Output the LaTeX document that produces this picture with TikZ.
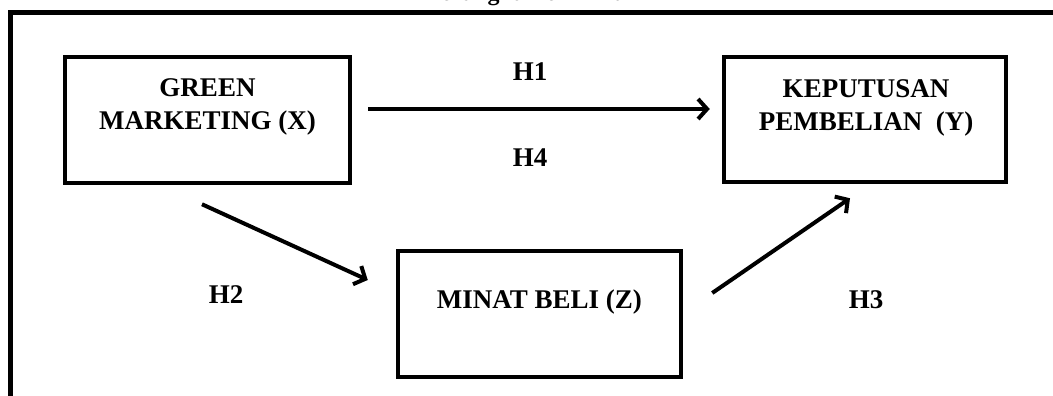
\documentclass[tikz,border=0pt]{standalone}
\usepackage{fontspec}
\setmainfont{Liberation Serif}
\usetikzlibrary{arrows.meta}
\begin{document}
\begin{tikzpicture}[x=1pt,y=-1pt,
  box/.style={draw=black,line width=4.5pt,rectangle,inner sep=0pt},
  lbl/.style={font=\fontsize{27}{33}\selectfont\bfseries,align=center,inner sep=0pt},
  hyp/.style={font=\fontsize{27}{33}\selectfont\bfseries,inner sep=0pt},
  arr/.style={line width=4pt,-{Straight Barb[length=9pt,width=20pt]}},
  frame/.style={line width=5pt,line join=miter},
]
\clip (0,0) rectangle (1053,396);
\fill[white] (0,0) rectangle (1053,396);

% caption line, cut off at the top edge
\node[font=\fontsize{24}{24}\selectfont\bfseries,anchor=base west,inner sep=0pt] (cap) at (422,0.5) {Kerangka Pemikiran};

% outer frame
\draw[frame] (10,410) -- (10,12.5) -- (1070,12.5);

% variables
\node[box,minimum width=285pt,minimum height=126pt] (X) at (207.5,120) {};
\node[box,minimum width=282pt,minimum height=125pt] (Y) at (865,119.5) {};
\node[box,minimum width=283pt,minimum height=126pt] (Z) at (539.5,314) {};

\node[lbl] (Xt) at (207.5,106.5) {GREEN\\MARKETING (X)};
\node[lbl] (Yt) at (866,107.5) {KEPUTUSAN\\PEMBELIAN\ \ (Y)};
\node[lbl] (Zt) at (539.5,302) {MINAT BELI (Z)};

% paths between variables
\draw[arr] ([shift={(16,-11)}]X.east) -- ([shift={(-12,-10.5)}]Y.west);
\draw[arr] ([shift={(-5.5,19)}]X.south) -- ([shift={(-28,-34)}]Z.west);
\draw[arr] ([shift={(29,-21)}]Z.east) -- ([shift={(-15,14)}]Y.south);

% hypothesis labels
\node[hyp] (h1) at (530,72) {H1};
\node[hyp] (h4) at (530,158) {H4};
\node[hyp] (h2) at (226,295) {H2};
\node[hyp] (h3) at (866,300) {H3};
\end{tikzpicture}
\end{document}
